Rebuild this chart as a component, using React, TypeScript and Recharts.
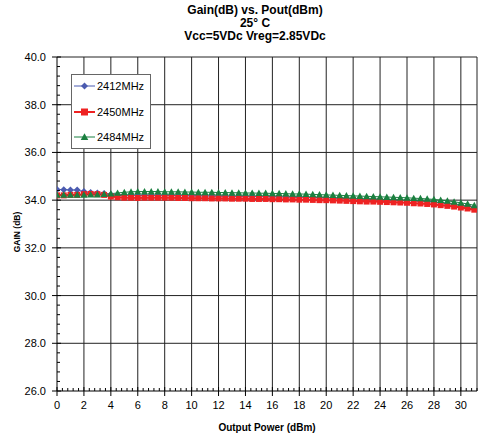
import React from "react";
import { LineChart, Line, XAxis, YAxis, ReferenceLine } from "recharts";

const titleLines = ["Gain(dB) vs. Pout(dBm)", "25° C", "Vcc=5VDc Vreg=2.85VDc"];
const xTitle = "Output Power (dBm)";
const yTitle = "GAIN (dB)";
const seriesNames = ["2412MHz", "2450MHz", "2484MHz"];
const seriesColors = ["#4b5bb0", "#ee2222", "#1b8040"];

const pout = [
  0, 0.5, 1, 1.5, 2, 2.5, 3, 3.5, 4, 4.5, 5, 5.5, 6, 6.5, 7, 7.5, 8, 8.5, 9, 9.5,
  10, 10.5, 11, 11.5, 12, 12.5, 13, 13.5, 14, 14.5, 15, 15.5, 16, 16.5, 17, 17.5,
  18, 18.5, 19, 19.5, 20, 20.5, 21, 21.5, 22, 22.5, 23, 23.5, 24, 24.5, 25, 25.5,
  26, 26.5, 27, 27.5, 28, 28.5, 29, 29.5, 30, 30.5, 31,
];

const gain2412 = [
  34.45, 34.44, 34.43, 34.42, 34.36, 34.32, 34.3, 34.28, 34.24, 34.22, 34.21, 34.21,
  34.2, 34.2, 34.2, 34.2, 34.2, 34.2, 34.19, 34.19, 34.18, 34.18, 34.18, 34.17, 34.17,
  34.17, 34.16, 34.16, 34.16, 34.15, 34.15, 34.15, 34.14, 34.14, 34.13, 34.13, 34.12,
  34.12, 34.11, 34.1, 34.1, 34.09, 34.08, 34.07, 34.06, 34.05, 34.04, 34.04, 34.03,
  34.02, 34.01, 34.0, 33.99, 33.97, 33.96, 33.94, 33.92, 33.89, 33.86, 33.83, 33.79,
  33.75, 33.7,
];

const gain2450 = [
  34.2, 34.2, 34.22, 34.22, 34.25, 34.26, 34.25, 34.22, 34.15, 34.12, 34.1, 34.1,
  34.09, 34.1, 34.1, 34.1, 34.1, 34.1, 34.09, 34.09, 34.08, 34.08, 34.08, 34.07,
  34.07, 34.07, 34.06, 34.06, 34.06, 34.05, 34.05, 34.05, 34.04, 34.04, 34.03, 34.03,
  34.02, 34.02, 34.01, 34.0, 34.0, 33.99, 33.98, 33.97, 33.96, 33.95, 33.94, 33.94,
  33.93, 33.92, 33.91, 33.9, 33.89, 33.87, 33.86, 33.84, 33.82, 33.79, 33.76, 33.73,
  33.69, 33.65, 33.6,
];

const gain2484 = [
  34.22, 34.22, 34.22, 34.22, 34.22, 34.23, 34.23, 34.25, 34.27, 34.3, 34.33, 34.35,
  34.36, 34.36, 34.36, 34.36, 34.35, 34.35, 34.35, 34.34, 34.34, 34.33, 34.33, 34.33,
  34.32, 34.32, 34.31, 34.31, 34.3, 34.3, 34.29, 34.29, 34.28, 34.28, 34.27, 34.26,
  34.26, 34.25, 34.24, 34.23, 34.22, 34.21, 34.2, 34.19, 34.18, 34.17, 34.16, 34.15,
  34.14, 34.13, 34.12, 34.11, 34.1, 34.08, 34.07, 34.05, 34.03, 34.0, 33.97, 33.93,
  33.89, 33.84, 33.78,
];

const xMajorTicks = [0, 2, 4, 6, 8, 10, 12, 14, 16, 18, 20, 22, 24, 26, 28, 30];
const yMajorTicks = [26, 28, 30, 32, 34, 36, 38, 40];
const xMax = 31.2;

const minorStep = 0.4;
const buildTicks = (majors: number[], max: number) => {
  const out: number[] = [];
  const lo = majors[0];
  for (let v = lo; v <= max + 1e-9; v = +(v + minorStep).toFixed(4)) out.push(+v.toFixed(1));
  return out;
};
const xTicks = buildTicks(xMajorTicks, xMax);
const yTicks = buildTicks(yMajorTicks, 40);

const data = pout.map((x, i) => ({
  x,
  g2412: gain2412[i],
  g2450: gain2450[i],
  g2484: gain2484[i],
}));

const isMajor = (v: number) => Math.abs(v / 2 - Math.round(v / 2)) < 1e-6;

const YTick = (props: any) => {
  const { x, y, payload } = props;
  const v = payload.value as number;
  const major = isMajor(v);
  return (
    <g>
      {major ? (
        <line x1={x - 5} x2={x + 4} y1={y} y2={y} stroke="#000" />
      ) : (
        <line x1={x} x2={x + 3} y1={y} y2={y} stroke="#000" />
      )}
      {major && (
        <text x={x - 11} y={y} textAnchor="end" dominantBaseline="central" fontSize={11} fill="#000" fontFamily="Liberation Sans, Arial, sans-serif">
          {v.toFixed(1)}
        </text>
      )}
    </g>
  );
};

const XTick = (props: any) => {
  const { x, y, payload } = props;
  const v = payload.value as number;
  const major = isMajor(v);
  return (
    <g>
      {major ? (
        <line x1={x} x2={x} y1={y - 4} y2={y + 5} stroke="#000" />
      ) : (
        <line x1={x} x2={x} y1={y} y2={y - 3} stroke="#000" />
      )}
      {major && (
        <text x={x} y={y + 14} textAnchor="middle" dominantBaseline="central" fontSize={11} fill="#000" fontFamily="Liberation Sans, Arial, sans-serif">
          {String(v)}
        </text>
      )}
    </g>
  );
};

const diamondPath = (cx: number, cy: number, r: number) =>
  `M${cx},${cy - r}L${cx + r},${cy}L${cx},${cy + r}L${cx - r},${cy}Z`;
const squarePath = (cx: number, cy: number, r: number) =>
  `M${cx - r},${cy - r}L${cx + r},${cy - r}L${cx + r},${cy + r}L${cx - r},${cy + r}Z`;
const trianglePath = (cx: number, cy: number, r: number) =>
  `M${cx},${cy - r}L${cx + r},${cy + r * 0.8}L${cx - r},${cy + r * 0.8}Z`;

const makeDot = (kind: number, color: string) => (p: any) => {
  const { cx, cy, index } = p;
  if (cx == null || cy == null) return <g key={`d${kind}-${index}`} />;
  const d =
    kind === 0 ? diamondPath(cx, cy, 3.5) : kind === 1 ? squarePath(cx, cy, 3) : trianglePath(cx, cy, 3.6);
  return <path key={`d${kind}-${index}`} d={d} fill={color} stroke="none" />;
};

const markerFor = (kind: number, cx: number, cy: number) =>
  kind === 0 ? diamondPath(cx, cy, 3.5) : kind === 1 ? squarePath(cx, cy, 3.5) : trianglePath(cx, cy, 3.8);

const FONT = "Liberation Sans, Arial, sans-serif";

export default function App() {
  const legendRows = [86, 112, 137];
  return (
    <div style={{ position: "absolute", left: 0, top: 0, width: 478, height: 436, background: "#fff" }}>
      <LineChart
        width={478}
        height={436}
        data={data}
        margin={{ top: 57, right: 1, left: 0, bottom: 0 }}
      >
        {xMajorTicks.slice(1).map((v) => (
          <ReferenceLine key={`gx${v}`} x={v} stroke="#222" strokeWidth={1} ifOverflow="visible" />
        ))}
        {yMajorTicks.slice(1, -1).map((v) => (
          <ReferenceLine key={`gy${v}`} y={v} stroke="#222" strokeWidth={1} ifOverflow="visible" />
        ))}
        <ReferenceLine x={xMax} stroke="#222" strokeWidth={1} ifOverflow="visible" />
        <ReferenceLine y={40} stroke="#222" strokeWidth={1} ifOverflow="visible" />
        <XAxis
          type="number"
          dataKey="x"
          domain={[0, xMax]}
          ticks={xTicks}
          interval={0}
          height={45}
          tickSize={0}
          tickMargin={0}
          tickLine={false}
          axisLine={{ stroke: "#000" }}
          tick={<XTick />}
          allowDataOverflow
        />
        <YAxis
          type="number"
          domain={[26, 40]}
          ticks={yTicks}
          interval={0}
          width={57}
          tickSize={0}
          tickMargin={0}
          tickLine={false}
          axisLine={{ stroke: "#000" }}
          tick={<YTick />}
          allowDataOverflow
        />
        <Line
          dataKey="g2412"
          name={seriesNames[0]}
          stroke={seriesColors[0]}
          strokeWidth={1}
          dot={makeDot(0, seriesColors[0])}
          isAnimationActive={false}
        />
        <Line
          dataKey="g2450"
          name={seriesNames[1]}
          stroke={seriesColors[1]}
          strokeWidth={2}
          dot={makeDot(1, seriesColors[1])}
          isAnimationActive={false}
        />
        <Line
          dataKey="g2484"
          name={seriesNames[2]}
          stroke={seriesColors[2]}
          strokeWidth={1}
          dot={makeDot(2, seriesColors[2])}
          isAnimationActive={false}
        />
      </LineChart>
      <svg
        width={478}
        height={436}
        style={{ position: "absolute", left: 0, top: 0, pointerEvents: "none" }}
      >
        {titleLines.map((t, i) => (
          <text
            key={t}
            x={255}
            y={14 + i * 13}
            textAnchor="middle"
            fontSize={12}
            fontWeight="bold"
            fontFamily={FONT}
            fill="#000"
          >
            {t}
          </text>
        ))}
        <text x={267} y={427} textAnchor="middle" dominantBaseline="central" fontSize={10} fontWeight="bold" fontFamily={FONT} fill="#000">
          {xTitle}
        </text>
        <text
          x={17}
          y={232}
          textAnchor="middle"
          dominantBaseline="central"
          fontSize={8.5}
          fontWeight="bold"
          fontFamily={FONT}
          fill="#000"
          transform="rotate(-90 17 232)"
        >
          {yTitle}
        </text>
        <rect x={71.5} y={74.5} width={79} height={74} fill="#fff" stroke="#666" strokeWidth={1} />
        {seriesNames.map((n, i) => (
          <g key={n}>
            <line x1={74} x2={95} y1={legendRows[i]} y2={legendRows[i]} stroke={seriesColors[i]} strokeWidth={i === 1 ? 2 : 1} />
            <path d={markerFor(i, 84.5, legendRows[i])} fill={seriesColors[i]} />
            <text x={97} y={legendRows[i]} dominantBaseline="central" fontSize={11} fontFamily={FONT} fill="#000">
              {n}
            </text>
          </g>
        ))}
      </svg>
    </div>
  );
}
